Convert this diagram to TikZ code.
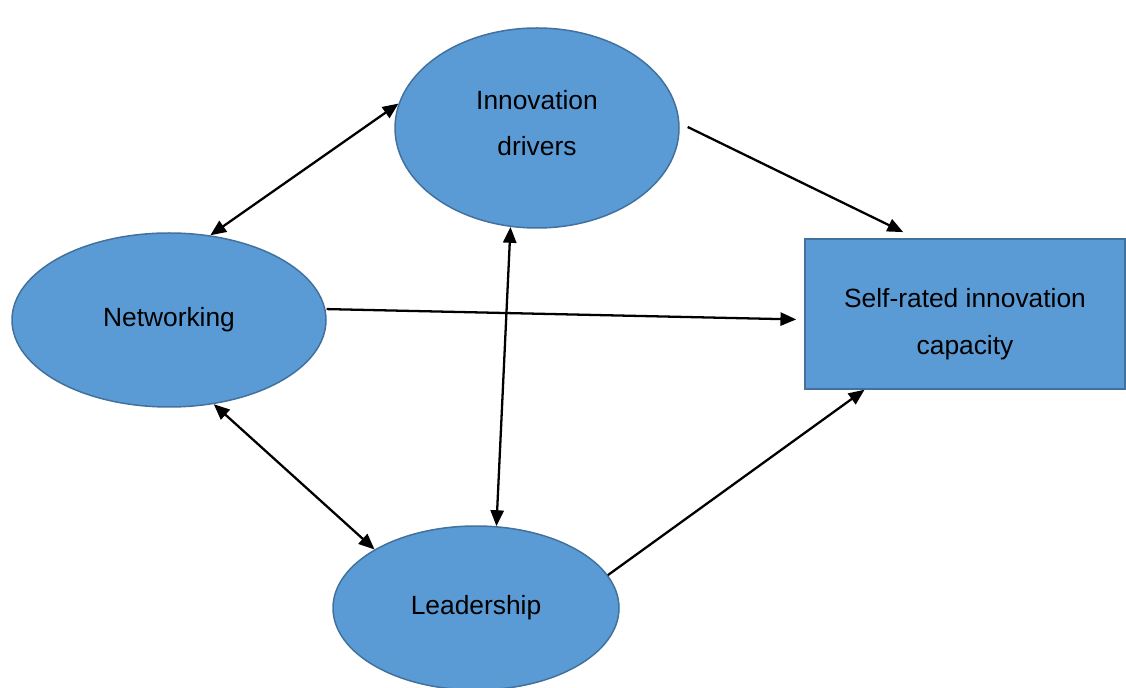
\documentclass[tikz,border=0pt]{standalone}
\usepackage{fontspec}
\setmainfont{Liberation Sans}
\usetikzlibrary{arrows.meta,shapes.geometric}
\definecolor{boxblue}{HTML}{5B9BD5}
\definecolor{boxline}{HTML}{41719C}

\begin{document}
\begin{tikzpicture}[
				txt/.style={align=center,inner sep=0pt,font=\fontsize{15}{26.6}\selectfont},
				blob/.style={ellipse,draw=boxline,fill=boxblue,line width=0.85pt,txt},
				outcome/.style={rectangle,draw=boxline,fill=boxblue,line width=0.85pt,txt},
				tip/.style={Triangle[length=9pt,width=7.5pt]},
				link/.style={line width=1.3pt,-{Triangle[length=9pt,width=7.5pt]}},
				both/.style={line width=1.3pt,{Triangle[length=9pt,width=7.5pt]}-{Triangle[length=9pt,width=7.5pt]}}
				]
				\useasboundingbox (0,0) rectangle (22.52,13.74);
				\node[blob,minimum width=5.68cm,minimum height=4cm,
					label={[txt,name=drivers-text,yshift=0.1cm]center:Innovation\\drivers}] (drivers) at (10.74,11.18) {};
				\node[blob,minimum width=6.28cm,minimum height=3.48cm] (network) at (3.38,7.34) {Networking};
				\node[blob,minimum width=5.72cm,minimum height=3.28cm] (lead) at (9.52,1.58) {Leadership};
				\node[outcome,minimum width=6.4cm,minimum height=3cm,
					label={[txt,name=capacity-text,yshift=-0.2cm]center:Self-rated innovation\\capacity}] (capacity) at (19.3,7.46) {};
				\draw[both] (drivers.170) -- (network.64);
				\draw[both] (drivers.255) -- (lead.76);
				\draw[both] (network.298) -- (lead.150);
				\draw[link,shorten <=0.18cm,shorten >=0.28cm] (drivers.2) -- (capacity.123);
				\draw[link,shorten <=0.02cm,shorten >=0.16cm] (network.4) -- (capacity.182);
				\draw[link] (lead.14) -- (capacity.217);
\end{tikzpicture}
\end{document}
